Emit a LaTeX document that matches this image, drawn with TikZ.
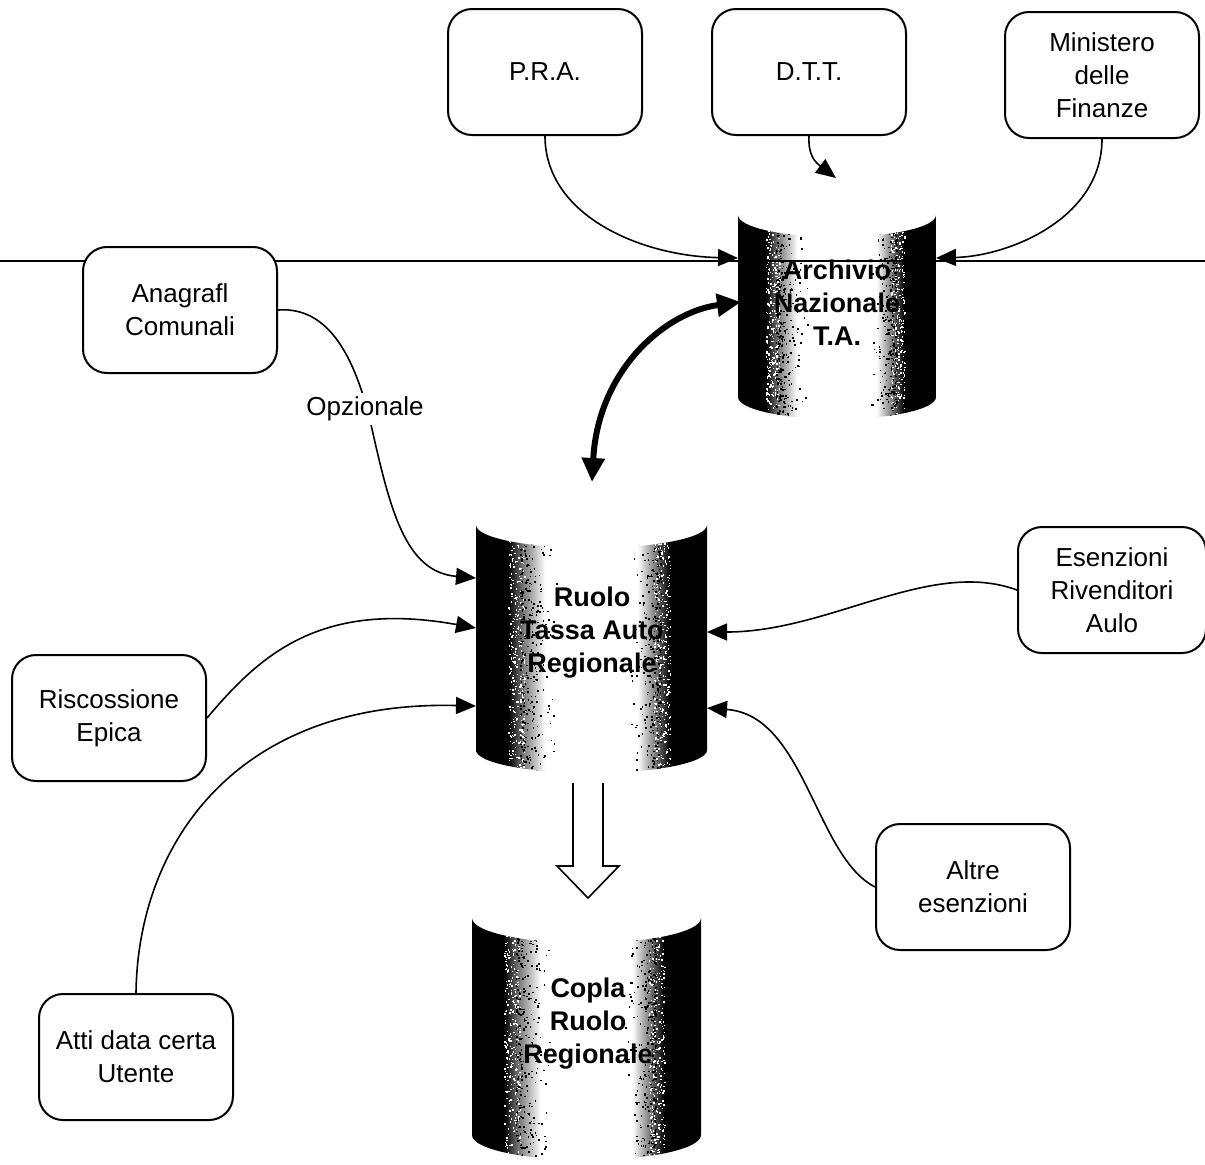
\documentclass[tikz,border=0pt]{standalone}
\usepackage{fontspec}
\setmainfont{Liberation Sans}
\usetikzlibrary{arrows.meta}

% dark edges, light middle: the lit face of a cylinder
\pgfdeclarehorizontalshading{cylsh}{100bp}{%
  color(0bp)=(black); color(25bp)=(black); color(32bp)=(black);
  color(35bp)=(black!55); color(40bp)=(white); color(60bp)=(white);
  color(64bp)=(black!55); color(67bp)=(black); color(75bp)=(black);
  color(100bp)=(black)}

% cylinder: left x, right x, top corner y, bottom corner y, arc depth
\newcommand\dbcyl[5]{%
  \begin{scope}
  \clip
    (#1,#3) -- (#1,#4)
    .. controls (#1,{#4+0.552*#5}) and ({(#1+#2)/2-0.552*(#2-#1)/2},{#4+#5}) .. ({(#1+#2)/2},{#4+#5})
    .. controls ({(#1+#2)/2+0.552*(#2-#1)/2},{#4+#5}) and (#2,{#4+0.552*#5}) .. (#2,#4)
    -- (#2,#3)
    .. controls (#2,{#3+0.552*#5}) and ({(#1+#2)/2+0.552*(#2-#1)/2},{#3+#5}) .. ({(#1+#2)/2},{#3+#5})
    .. controls ({(#1+#2)/2-0.552*(#2-#1)/2},{#3+#5}) and (#1,{#3+0.552*#5}) .. (#1,#3) -- cycle;
  \shade[shading=cylsh] (#1,#3) rectangle (#2,{#4+#5});
  % grain where the dark sides fade into the light middle
  \foreach \i in {1,...,320}{%
    \fill[black] ({#1+(#2-#1)*(0.19+0.17*rnd*rnd)},{#3+(#4-#3+#5)*rnd}) rectangle ++(1.6,1.6);
    \fill[black] ({#2-(#2-#1)*(0.20+0.14*rnd*rnd)},{#3+(#4-#3+#5)*rnd}) rectangle ++(1.6,1.6);
    \fill[white] ({#1+(#2-#1)*(0.14+0.07*rnd)},{#3+(#4-#3+#5)*rnd}) rectangle ++(1.4,1.4);
    \fill[white] ({#2-(#2-#1)*(0.16+0.07*rnd)},{#3+(#4-#3+#5)*rnd}) rectangle ++(1.4,1.4);
  }
  \end{scope}}

\begin{document}
\begin{tikzpicture}[x=0.5pt,y=-0.5pt,
  every node/.style={font=\fontsize{13}{16.5}\selectfont, align=center, inner sep=0pt},
  box/.style={draw, fill=white, line width=1pt, rounded corners=12pt,
    minimum width=97pt, minimum height=63pt},
  dbtext/.style={font=\fontsize{13.5}{16.5}\selectfont\bfseries},
  link/.style={line width=0.8pt, -{Triangle[length=10pt,width=8.5pt]}},
  bothway/.style={line width=3pt, {Triangle[length=12pt,width=11pt]}-{Triangle[length=12pt,width=11pt]}}]
\useasboundingbox (0,0) rectangle (1205,1164);
\pgfmathsetseed{4271}

% databases
\dbcyl{738}{936}{215}{397}{22}
\dbcyl{476}{707}{525}{750}{23}
\dbcyl{472}{701}{918}{1135}{25}
\node[dbtext] (arch) at (837,303) {Archivio\\Nazionale\\T.A.};
\node[dbtext] (ruolo) at (592,633) {Ruolo\\Tassa Auto\\Regionale};
\node[dbtext] (copla) at (588,1024) {Copla\\Ruolo\\Regionale};

% separator line
\coordinate (sepL) at (0,261);
\coordinate (sepR) at (1205,261);
\draw[line width=0.6pt] (sepL) -- (sepR);

% boxes
\node[box] (pra) at (545,72) {P.R.A.};
\node[box] (dtt) at (809,72) {D.T.T.};
\node[box] (min) at (1102,75) {Ministero\\delle\\Finanze};
\node[box] (anag) at (180,310) {Anagrafl\\Comunali};
\node[box, minimum width=94pt] (esen) at (1112,590) {Esenzioni\\Rivenditori\\Aulo};
\node[box] (risc) at (109,718) {Riscossione\\Epica};
\node[box] (altre) at (973,887) {Altre\\esenzioni};
\node[box] (atti) at (136,1057) {Atti data certa\\Utente};

% arrow ends on the databases
\coordinate (archW) at (738,258);
\coordinate (archE) at (936,258);
\coordinate (archL) at (741,302);
\coordinate (ruoloT) at (592,482);
\coordinate (ruoloW1) at (476,578);
\coordinate (ruoloW2) at (476,628);
\coordinate (ruoloW3) at (476,706);
\coordinate (ruoloE1) at (707,632);
\coordinate (ruoloE2) at (707,708);
\coordinate (dttEnd) at (836,178);

% national sources
\draw[link] (pra.south) .. controls (545,215) and (640,256) .. (archW);
\draw[link] (min.south) .. controls (1102,218) and (1010,256) .. (archE);
\draw[link] (dtt.south) .. controls (808,155) and (815,162) .. (dttEnd);

% exchange between the two registers
\draw[bothway] (ruoloT) .. controls (598,370) and (665,312) .. (archL);

% regional sources
\draw[link] (anag.east) .. controls (330,306) and (355,360) .. (370,420)
  .. controls (390,510) and (405,572) .. (ruoloW1);
\node[fill=white, inner sep=2pt] (opz) at (365,409) {Opzionale};
\draw[link] (risc.east) .. controls (260,655) and (320,600) .. (ruoloW2);
\draw[link] (atti.north) .. controls (138,840) and (240,700) .. (ruoloW3);
\draw[link] (esen.west) .. controls (930,558) and (830,632) .. (ruoloE1);
\draw[link] (altre.west) .. controls (815,856) and (805,715) .. (ruoloE2);

% copy step
\coordinate (cpL) at (573,783);
\coordinate (cpR) at (603,783);
\draw[line width=0.8pt, fill=white] (cpL) -- (573,866) -- (557,866) -- (588,898)
  -- (619,866) -- (603,866) -- (cpR);
\end{tikzpicture}
\end{document}
